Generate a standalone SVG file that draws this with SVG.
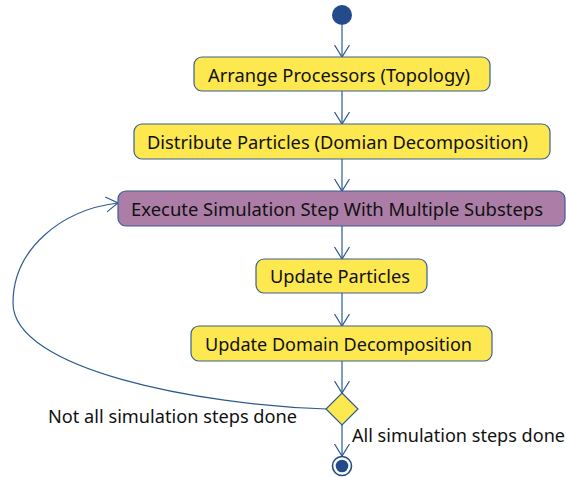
<svg xmlns="http://www.w3.org/2000/svg" width="566" height="477" viewBox="0 0 566 477">
<style>
.n rect{stroke:#3a5f94;stroke-width:1.2}
.y{fill:#fde84f}
.p{fill:#ac7da7}
text{font-family:"Noto Sans","Open Sans",sans-serif;font-size:17.6px;fill:#111}
.c{stroke:#2d5a91;stroke-width:1.2;fill:none}
</style>
<defs>
<marker id="a" markerUnits="userSpaceOnUse" markerWidth="14" markerHeight="18" refX="12" refY="8" orient="auto" viewBox="0 0 14 16">
<path d="M0,0.5 L12,8 L0,15.5" fill="none" stroke="#2d5a91" stroke-width="1.2"/>
</marker>
</defs>
<rect width="566" height="477" fill="#fff"/>
<g id="connectors" class="c">
<line x1="342" y1="25" x2="342" y2="57" marker-end="url(#a)"/>
<line x1="342" y1="91" x2="342" y2="124" marker-end="url(#a)"/>
<line x1="342" y1="159" x2="342" y2="191" marker-end="url(#a)"/>
<line x1="342" y1="226" x2="342" y2="259" marker-end="url(#a)"/>
<line x1="342" y1="293" x2="342" y2="326" marker-end="url(#a)"/>
<line x1="342" y1="361" x2="342" y2="393" marker-end="url(#a)"/>
<line x1="342" y1="425" x2="342" y2="456" marker-end="url(#a)"/>
<path d="M327,409 C200,405 13,370 13,303 C13,250 60,210 118,203" marker-end="url(#a)"/>
</g>
<g id="start"><circle cx="342" cy="15" r="10" fill="#234b8a"/></g>
<g id="n1" class="n"><rect class="y" x="194" y="57" width="296" height="34" rx="8"/><text x="208" y="82" textLength="262" lengthAdjust="spacingAndGlyphs">Arrange Processors (Topology)</text></g>
<g id="n2" class="n"><rect class="y" x="134" y="124" width="416" height="35" rx="8"/><text x="147" y="149" textLength="381" lengthAdjust="spacingAndGlyphs">Distribute Particles (Domian Decomposition)</text></g>
<g id="n3" class="n"><rect class="p" x="118" y="191" width="447" height="35" rx="8"/><text x="131" y="216" textLength="412" lengthAdjust="spacingAndGlyphs">Execute Simulation Step With Multiple Substeps</text></g>
<g id="n4" class="n"><rect class="y" x="256" y="259" width="171" height="34" rx="8"/><text x="270" y="283" textLength="140" lengthAdjust="spacingAndGlyphs">Update Particles</text></g>
<g id="n5" class="n"><rect class="y" x="191" y="326" width="301" height="35" rx="8"/><text x="205" y="351" textLength="267" lengthAdjust="spacingAndGlyphs">Update Domain Decomposition</text></g>
<g id="decision"><path d="M342,393 L358,409 L342,425 L326,409 Z" fill="#fde84f" stroke="#2d5a91" stroke-width="1.2"/></g>
<g id="labels">
<text x="48" y="423" textLength="249" lengthAdjust="spacingAndGlyphs">Not all simulation steps done</text>
<text x="352" y="442" textLength="213" lengthAdjust="spacingAndGlyphs">All simulation steps done</text>
</g>
<g id="end"><circle cx="342" cy="466" r="9.5" fill="#fff" stroke="#234b8a" stroke-width="1.6"/><circle cx="342" cy="466" r="6.3" fill="#234b8a"/></g>
</svg>
